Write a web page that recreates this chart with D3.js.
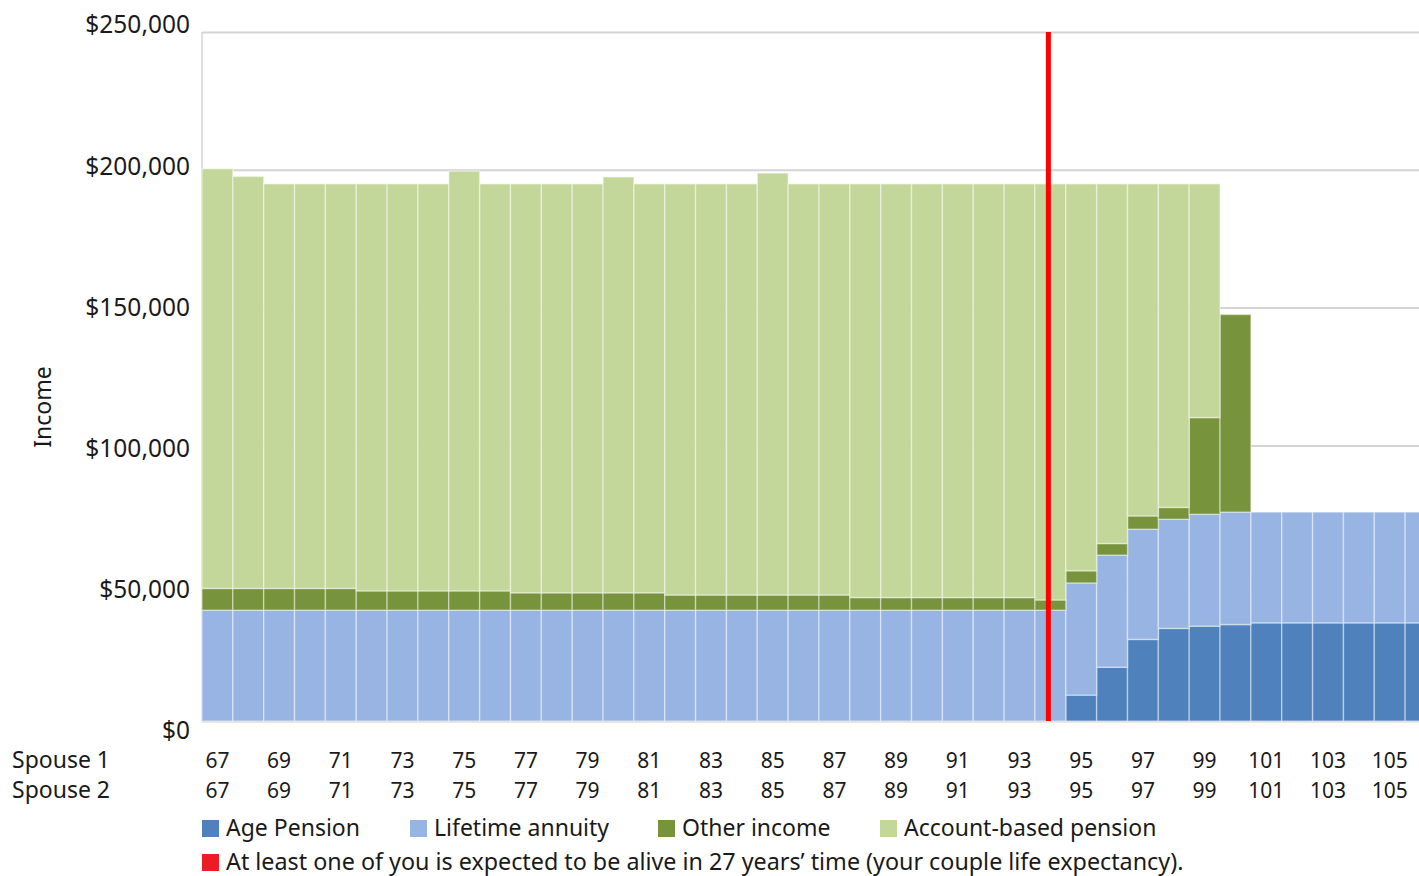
<!DOCTYPE html>
<html lang="en">
  <head>
    <meta charset="utf-8">
    <title>Income projection</title>
    <script src="https://cdn.jsdelivr.net/npm/d3@7"></script>
  </head>
  <style>
    body { margin: 0; background: #fff; }
    svg text {
      font-family: "Noto Sans", "Open Sans", sans-serif;
      fill: #1a1a1a;
    }
  </style>
  <body>
    <div id="svg-area"></div>
    <script>
      const svg_width = 1419;
      const svg_height = 876;

      // ages (same for both spouses)
      const ages = [67, 68, 69, 70, 71, 72, 73, 74, 75, 76, 77, 78, 79, 80, 81, 82, 83, 84, 85, 86,
                    87, 88, 89, 90, 91, 92, 93, 94, 95, 96, 97, 98, 99, 100, 101, 102, 103, 104, 105, 106];

      // income components, $ per year
      const agePension = [0, 0, 0, 0, 0, 0, 0, 0, 0, 0, 0, 0, 0, 0, 0, 0, 0, 0, 0, 0,
                          0, 0, 0, 0, 0, 0, 0, 0, 9400, 19500, 29600, 33600, 34400, 35000, 35600, 35600, 35600, 35600, 35600, 35600];
      const lifetimeAnnuity = [40200, 40200, 40200, 40200, 40200, 40200, 40200, 40200, 40200, 40200, 40200, 40200, 40200, 40200, 40200, 40200, 40200, 40200, 40200, 40200,
                               40200, 40200, 40200, 40200, 40200, 40200, 40200, 40200, 40700, 40700, 40000, 39600, 40600, 40800, 40200, 40200, 40200, 40200, 40200, 40200];
      const otherIncome = [7900, 7900, 7900, 7900, 7900, 7000, 7000, 7000, 7000, 7000, 6300, 6300, 6300, 6300, 6300, 5500, 5500, 5500, 5500, 5500,
                           5500, 4600, 4600, 4600, 4600, 4600, 4600, 3700, 4400, 4200, 4800, 4300, 35100, 71700, 0, 0, 0, 0, 0, 0];
      const accountBased = [152300, 149500, 146800, 146800, 146800, 147700, 147700, 147700, 152300, 147700, 148400, 148400, 148400, 150900, 148400, 149200, 149200, 149200, 153100, 149200,
                            149200, 150100, 150100, 150100, 150100, 150100, 150100, 151000, 140400, 130500, 120500, 117400, 84800, 0, 0, 0, 0, 0, 0, 0];

      const seriesNames = ['Age Pension', 'Lifetime annuity', 'Other income', 'Account-based pension'];
      const seriesColors = ['#4f81bd', '#98b4e2', '#77933c', '#c4d79b'];
      const yTicks = [0, 50000, 100000, 150000, 200000, 250000];
      const lifeExpectancyAge = 94;
      const lifeExpectancyText = 'At least one of you is expected to be alive in 27 years\u2019 time (your couple life expectancy).';

      const table = ages.map((a, i) => ({
        age: a,
        'Age Pension': agePension[i],
        'Lifetime annuity': lifetimeAnnuity[i],
        'Other income': otherIncome[i],
        'Account-based pension': accountBased[i]
      }));

      const plot = {left: 202, top: 32, bottom: 721, barW: 30.85};

      const svg = d3.select('#svg-area')
        .append('svg')
        .attr('width', svg_width)
        .attr('height', svg_height);

      //scales
      const x_scale = d3.scaleBand()
        .domain(ages)
        .range([plot.left, plot.left + plot.barW * ages.length])
        .padding(0);

      const y_scale = d3.scaleLinear()
        .domain([0, 250000])
        .range([plot.bottom, plot.top]);

      // tick labels in the original sit on a slightly wider pitch than the gridlines
      const y_label_scale = d3.scaleLinear()
        .domain([0, 250000])
        .range([731, 25]);

      //gridlines
      svg.append('g')
        .attr('transform', `translate(${plot.left},0)`)
        .call(d3.axisLeft(y_scale).tickValues(yTicks).tickSize(-(svg_width - plot.left)).tickFormat(''))
        .call(g => g.select('.domain').remove())
        .call(g => g.selectAll('line').attr('stroke', '#d4d4d4').attr('stroke-width', 2));

      svg.append('line')
        .attr('x1', plot.left).attr('x2', plot.left)
        .attr('y1', plot.top).attr('y2', plot.bottom)
        .attr('stroke', '#d4d4d4').attr('stroke-width', 1.5);

      //stacked bars
      const stack = d3.stack().keys(seriesNames);
      const layers = stack(table);

      svg.append('g')
        .selectAll('g')
        .data(layers)
        .join('g')
        .attr('fill', (d, i) => seriesColors[i])
        .selectAll('rect')
        .data(d => d.filter(v => v[1] > v[0]))
        .join('rect')
        .attr('x', d => x_scale(d.data.age))
        .attr('width', x_scale.bandwidth())
        .attr('y', d => y_scale(d[1]))
        .attr('height', d => y_scale(d[0]) - y_scale(d[1]))
        .attr('stroke', 'rgba(255,255,255,0.4)')
        .attr('stroke-width', 1.5);

      //life expectancy marker
      svg.append('line')
        .attr('x1', x_scale(lifeExpectancyAge) + x_scale.bandwidth() / 2 - 2)
        .attr('x2', x_scale(lifeExpectancyAge) + x_scale.bandwidth() / 2 - 2)
        .attr('y1', plot.top)
        .attr('y2', plot.bottom)
        .attr('stroke', '#ff0000')
        .attr('stroke-width', 5);

      //y axis labels
      svg.append('g')
        .attr('transform', 'translate(190,0)')
        .call(d3.axisLeft(y_label_scale).tickValues(yTicks).tickSize(0).tickPadding(0)
          .tickFormat(d => '$' + d3.format(',')(d)))
        .call(g => g.select('.domain').remove())
        .call(g => g.selectAll('text').attr('font-size', 24.5).attr('fill', '#1a1a1a'));

      svg.append('text')
        .attr('transform', 'translate(51,407) rotate(-90)')
        .attr('text-anchor', 'middle')
        .attr('font-size', 23)
        .text('Income');

      //x labels, two rows
      const oddAges = ages.filter(a => a % 2 === 1);
      ['Spouse 1', 'Spouse 2'].forEach((name, r) => {
        const yy = 768 + r * 30;
        svg.append('text')
          .attr('x', 12).attr('y', yy)
          .attr('font-size', 23)
          .text(name);
        svg.append('g')
          .selectAll('text')
          .data(oddAges)
          .join('text')
          .attr('x', d => x_scale(d) + x_scale.bandwidth() / 2)
          .attr('y', yy)
          .attr('text-anchor', 'middle')
          .attr('font-size', 21)
          .text(d => d);
      });

      //legend
      const legendX = [202, 410, 658, 880];
      const legend = svg.append('g')
        .selectAll('g')
        .data(seriesNames)
        .join('g')
        .attr('transform', (d, i) => `translate(${legendX[i]},820)`);
      legend.append('rect')
        .attr('width', 17).attr('height', 17)
        .attr('fill', (d, i) => seriesColors[i]);
      legend.append('text')
        .attr('x', 24).attr('y', 16)
        .attr('font-size', 23)
        .text(d => d);

      const red = svg.append('g').attr('transform', 'translate(202,854)');
      red.append('rect').attr('width', 17).attr('height', 17).attr('fill', '#ed1c24');
      red.append('text').attr('x', 24).attr('y', 16).attr('font-size', 23.3).text(lifeExpectancyText);
    </script>
  </body>
</html>
